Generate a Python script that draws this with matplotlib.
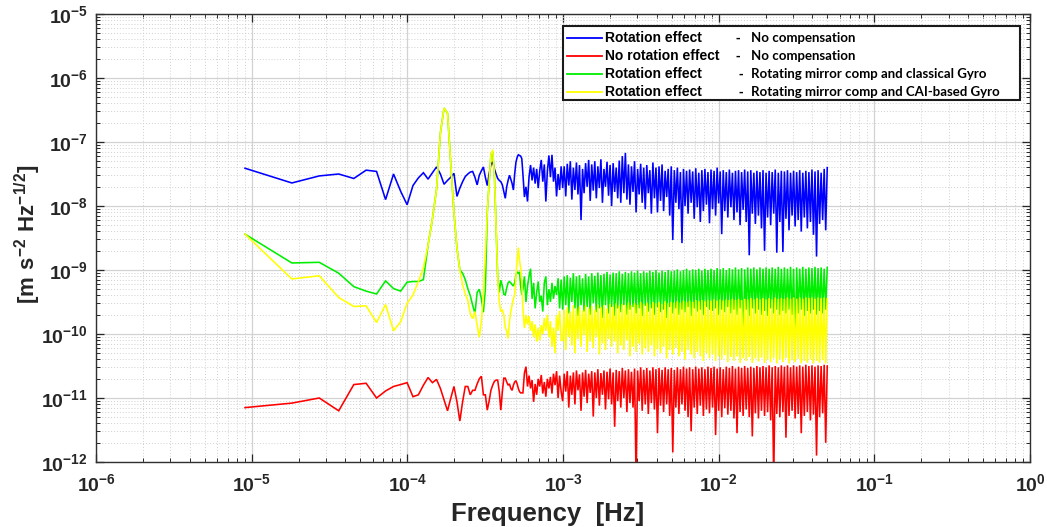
import numpy as np
import matplotlib
matplotlib.use("Agg")
import matplotlib.pyplot as plt
from matplotlib.ticker import FixedLocator, FuncFormatter, NullFormatter
from matplotlib.patches import Rectangle
from matplotlib.lines import Line2D

plt.rcParams['font.family'] = ['Liberation Sans', 'DejaVu Sans']
plt.rcParams['mathtext.fontset'] = 'custom'
plt.rcParams['mathtext.rm'] = 'Liberation Sans:bold'
plt.rcParams['mathtext.bf'] = 'Liberation Sans:bold'
plt.rcParams['mathtext.default'] = 'bf'

# ---------------- data (log10 of amplitude spectral density) ----------------
DF = 9.06e-6          # frequency resolution [Hz]
N_LOW = 60            # individually resolved bins k = 1..60
N_LAST = 5500         # last bin (~0.05 Hz)
N_DENSE = 200         # readings across the dense high-frequency band

x_exponents = [-6, -5, -4, -3, -2, -1, 0]
y_exponents = [-12, -11, -10, -9, -8, -7, -6, -5]

blue_low = [-7.41, -7.64, -7.53, -7.50, -7.57, -7.44, -7.46, -7.90, -7.50, -7.77,
            -7.98, -7.68, -7.56, -7.48, -7.58, -7.48, -7.39, -7.50, -7.66, -7.60,
            -7.55, -7.49, -7.85, -7.72, -7.62, -7.54, -7.50, -7.47, -7.46, -7.55,
            -7.67, -7.52, -7.45, -7.39, -7.55, -7.68, -7.50, -7.35, -7.31, -7.42,
            -7.50, -7.57, -7.60, -7.62, -7.67, -7.78, -7.88, -7.70, -7.60, -7.52,
            -7.58, -7.65, -7.75, -7.50, -7.32, -7.24, -7.20, -7.21, -7.22, -7.26]

red_low = [-11.15, -11.08, -11.00, -11.20, -10.79, -10.77, -11.00, -10.89, -10.82, -10.79,
           -10.76, -10.98, -10.95, -10.80, -10.68, -10.76, -10.71, -10.85, -11.03, -11.20,
           -11.00, -10.82, -11.06, -11.36, -11.06, -10.82, -10.82, -10.95, -10.88, -10.88,
           -10.78, -10.70, -10.66, -10.95, -10.95, -11.19, -11.05, -10.88, -10.80, -10.74,
           -10.72, -10.72, -10.90, -11.19, -10.90, -10.69, -10.69, -10.75, -10.80, -10.78,
           -10.85, -10.88, -10.80, -10.75, -10.73, -10.78, -10.85, -10.90, -10.92, -10.92]

green_low = [-8.44, -8.89, -8.88, -9.05, -9.26, -9.33, -9.375, -9.17, -9.29, -9.33,
             -9.19, -9.18, -9.18, -9.15, -8.61, -8.20, -7.74, -6.86, -6.47, -6.55,
             -7.36, -8.11, -8.66, -9.00, -9.05, -9.15, -9.29, -9.40, -9.55, -9.68,
             -9.35, -9.30, -9.45, -9.66, -9.30, -8.10, -7.65, -7.20, -7.15, -7.50,
             -8.30, -9.10, -9.35, -9.16, -9.25, -9.38, -9.39, -9.28, -9.20, -9.18,
             -9.20, -9.23, -9.25, -9.20, -9.08, -9.03, -9.05, -9.03, -9.25, -9.39]

yellow_low = [-8.44, -9.14, -9.09, -9.43, -9.57, -9.56, -9.82, -9.54, -9.95, -9.81,
              -9.52, -9.39, -9.18, -8.97, -8.61, -8.20, -7.74, -6.86, -6.47, -6.55,
              -7.36, -8.11, -8.66, -9.00, -9.23, -9.37, -9.47, -9.68, -9.76, -9.65,
              -9.86, -10.05, -9.80, -9.39, -8.75, -8.10, -7.65, -7.20, -7.12, -7.50,
              -8.30, -9.10, -9.50, -9.65, -9.62, -9.70, -9.90, -9.95, -10.07, -9.80,
              -9.65, -9.55, -9.45, -9.39, -9.10, -8.85, -8.65, -8.85, -8.97, -9.20]

blue_dense = [-7.50, -7.86, -7.70, -7.93, -7.55, -7.36, -7.60, -7.40, -7.65, -7.42,
              -7.72, -7.45, -7.28, -7.62, -7.35, -7.93, -7.45, -7.21, -7.55, -7.20,
              -7.62, -7.40, -7.85, -7.50, -7.75, -7.38, -7.72, -7.38, -7.85, -7.34,
              -7.68, -7.30, -7.90, -7.40, -7.75, -7.32, -7.82, -7.36, -8.22, -7.42,
              -7.80, -7.33, -7.70, -7.28, -7.92, -7.35, -7.76, -7.30, -7.88, -7.38,
              -7.72, -7.27, -7.95, -7.42, -7.70, -7.31, -7.84, -7.36, -8.00, -7.33,
              -7.78, -7.40, -7.88, -7.29, -7.95, -7.22, -7.80, -7.17, -7.90, -7.35,
              -7.98, -7.38, -7.78, -7.30, -8.10, -7.42, -7.82, -7.34, -7.95, -7.40,
              -8.05, -7.36, -7.80, -7.44, -8.12, -7.32, -7.88, -7.40, -8.10, -7.38,
              -7.92, -7.35, -8.08, -7.45, -7.86, -7.42, -8.15, -7.38, -8.53, -7.44,
              -7.95, -7.40, -8.05, -7.47, -8.58, -7.42, -8.00, -7.45, -8.12, -7.43,
              -7.95, -7.46, -8.20, -7.41, -8.02, -7.48, -8.25, -7.44, -8.08, -7.42,
              -7.98, -7.47, -8.27, -7.43, -8.05, -7.45, -8.15, -7.40, -7.96, -7.46,
              -8.44, -7.44, -8.08, -7.47, -8.18, -7.43, -8.02, -7.48, -8.22, -7.45,
              -8.10, -7.44, -8.30, -7.47, -8.06, -7.43, -8.25, -7.46, -8.77, -7.44,
              -8.12, -7.48, -8.28, -7.45, -8.15, -7.47, -8.35, -7.44, -8.70, -7.48,
              -8.18, -7.45, -8.30, -7.47, -8.12, -7.43, -8.73, -7.48, -8.25, -7.45,
              -8.72, -7.46, -8.20, -7.44, -8.38, -7.48, -8.15, -7.45, -8.32, -7.47,
              -8.22, -7.44, -8.40, -7.48, -8.18, -7.45, -8.35, -7.47, -8.25, -7.43,
              -8.45, -7.46, -8.79, -7.44, -8.28, -7.48, -8.22, -7.42, -8.38, -7.40]

red_dense = [-10.92, -10.61, -10.51, -10.82, -10.65, -10.85, -10.72, -11.06, -10.78, -10.95,
             -10.70, -10.82, -10.64, -10.93, -10.75, -10.98, -10.70, -10.85, -10.67, -10.93,
             -10.62, -10.80, -10.58, -11.00, -10.65, -10.90, -11.05, -10.62, -10.90, -10.58,
             -11.15, -10.65, -10.95, -10.60, -11.10, -10.57, -10.88, -10.63, -11.20, -10.60,
             -10.98, -10.56, -11.08, -10.62, -10.92, -10.58, -11.29, -10.60, -11.00, -10.55,
             -11.12, -10.61, -10.95, -10.57, -11.18, -10.59, -11.02, -10.54, -11.10, -10.60,
             -11.45, -10.56, -11.05, -10.58, -11.15, -10.53, -11.00, -10.57, -11.22, -10.55,
             -11.08, -10.59, -11.15, -10.54, -12.30, -10.57, -11.05, -10.52, -11.20, -10.56,
             -11.10, -10.53, -11.25, -10.57, -11.08, -10.52, -11.18, -10.55, -11.55, -10.53,
             -11.12, -10.56, -11.22, -10.52, -11.10, -10.55, -11.28, -10.53, -11.85, -10.56,
             -11.15, -10.52, -11.25, -10.55, -11.10, -10.51, -11.20, -10.54, -11.30, -10.52,
             -11.52, -10.55, -11.15, -10.51, -11.25, -10.54, -11.12, -10.52, -11.28, -10.55,
             -11.18, -10.51, -11.24, -10.53, -11.15, -10.51, -11.58, -10.54, -11.20, -10.52,
             -11.30, -10.55, -11.16, -10.51, -11.26, -10.53, -11.20, -10.50, -11.32, -10.54,
             -11.55, -10.51, -11.22, -10.53, -11.28, -10.50, -11.18, -10.53, -11.30, -10.51,
             -11.60, -10.53, -11.24, -10.50, -11.32, -10.52, -11.20, -10.50, -11.28, -10.52,
             -11.22, -10.49, -11.35, -10.52, -12.30, -10.50, -11.25, -10.52, -11.30, -10.49,
             -11.22, -10.51, -11.62, -10.49, -11.28, -10.52, -11.20, -10.49, -11.32, -10.51,
             -11.25, -10.49, -11.55, -10.51, -11.28, -10.48, -11.22, -10.50, -11.35, -10.49,
             -11.26, -10.51, -11.90, -10.49, -11.30, -10.50, -11.24, -10.48, -11.70, -10.50]

green_dense = [-9.30, -9.10, -9.50, -9.25, -9.10, -8.98, -9.45, -9.20, -9.60, -9.35,
               -9.18, -9.50, -9.40, -9.65, -9.20, -9.10, -9.55, -9.30, -9.50, -9.20,
               -9.45, -9.25, -9.39, -9.13, -9.60, -9.15, -9.62, -9.10, -9.55, -9.08,
               -9.68, -9.12, -9.50, -9.05, -9.60, -9.10, -9.72, -9.08, -9.55, -9.13,
               -9.65, -9.06, -9.58, -9.10, -9.70, -9.05, -9.52, -9.09, -9.66, -9.04,
               -9.60, -9.08, -9.75, -9.06, -9.55, -9.03, -9.68, -9.07, -9.58, -9.04,
               -9.72, -9.05, -9.60, -9.02, -9.66, -9.06, -9.55, -9.03, -9.70, -9.05,
               -9.62, -9.02, -9.58, -9.04, -9.68, -9.01, -9.60, -9.05, -9.72, -9.02,
               -9.56, -9.04, -9.65, -9.01, -9.60, -9.03, -9.70, -9.00, -9.58, -9.04,
               -9.66, -9.01, -9.62, -9.03, -9.75, -9.00, -9.58, -9.02, -9.68, -9.01,
               -9.60, -8.99, -9.70, -9.02, -9.62, -9.00, -9.66, -8.98, -9.58, -9.01,
               -9.72, -8.99, -9.60, -9.00, -9.65, -8.98, -9.62, -9.01, -9.70, -8.98,
               -9.58, -9.00, -9.62, -8.98, -9.64, -9.00, -9.60, -8.97, -9.70, -8.99,
               -9.62, -8.97, -9.66, -9.00, -9.58, -8.97, -9.68, -8.99, -9.62, -8.96,
               -9.70, -8.99, -9.60, -8.97, -10.25, -8.99, -9.62, -8.96, -9.72, -8.98,
               -9.60, -8.96, -9.68, -8.99, -9.62, -8.96, -9.70, -8.98, -9.64, -8.96,
               -9.72, -8.98, -9.60, -8.96, -9.68, -8.98, -9.62, -8.95, -9.70, -8.98,
               -9.64, -8.96, -9.68, -8.98, -9.62, -8.95, -9.70, -8.98, -10.15, -8.96,
               -9.68, -8.98, -9.62, -8.95, -9.72, -8.98, -9.64, -8.96, -9.68, -8.97,
               -9.62, -8.95, -9.70, -8.97, -9.64, -8.96, -9.68, -8.98, -9.62, -8.96]

yellow_dense = [-9.60, -9.91, -9.70, -9.85, -9.72, -9.95, -9.80, -10.05, -9.85, -10.12,
                -9.90, -10.10, -9.86, -10.00, -9.75, -9.95, -9.70, -10.05, -9.80, -10.20,
                -9.90, -10.30, -9.70, -9.95, -9.64, -10.10, -10.10, -9.62, -10.25, -9.58,
                -10.05, -9.65, -10.18, -9.55, -10.30, -9.60, -10.08, -9.57, -10.20, -9.63,
                -10.02, -9.55, -10.28, -9.60, -10.12, -9.56, -10.22, -9.62, -10.05, -9.54,
                -10.32, -9.58, -10.15, -9.55, -10.25, -9.60, -10.08, -9.53, -10.20, -9.57,
                -10.12, -9.52, -10.30, -9.56, -10.18, -9.53, -10.25, -9.55, -10.10, -9.51,
                -10.35, -9.55, -10.20, -9.52, -10.28, -9.54, -10.15, -9.50, -10.32, -9.53,
                -10.22, -9.51, -10.28, -9.54, -10.18, -9.50, -10.35, -9.52, -10.24, -9.50,
                -10.30, -9.53, -10.20, -9.49, -10.38, -9.52, -10.25, -9.50, -10.32, -9.51,
                -10.22, -9.49, -10.35, -9.51, -10.28, -9.48, -10.40, -9.50, -10.25, -9.48,
                -10.32, -9.50, -10.38, -9.47, -10.28, -9.49, -10.35, -9.47, -10.42, -9.49,
                -10.30, -9.47, -10.38, -9.48, -10.32, -9.46, -10.42, -9.48, -10.35, -9.46,
                -10.40, -9.48, -10.33, -9.46, -10.44, -9.47, -10.36, -9.45, -10.42, -9.47,
                -10.35, -9.45, -10.45, -9.47, -10.38, -9.45, -10.42, -9.46, -10.36, -9.44,
                -10.45, -9.46, -10.38, -9.44, -10.43, -9.46, -10.37, -9.44, -10.45, -9.46,
                -10.40, -9.44, -10.44, -9.46, -10.38, -9.43, -10.46, -9.45, -10.40, -9.44,
                -10.44, -9.45, -10.38, -9.43, -10.46, -9.45, -10.41, -9.43, -10.44, -9.45,
                -10.39, -9.43, -10.46, -9.45, -10.42, -9.43, -10.45, -9.44, -10.40, -9.43,
                -10.46, -9.45, -10.42, -9.43, -10.45, -9.44, -10.41, -9.43, -10.46, -9.45]

legend_left = ["Rotation effect", "No rotation effect", "Rotation effect", "Rotation effect"]
legend_right = ["No compensation", "No compensation",
                "Rotating mirror comp and classical Gyro",
                "Rotating mirror comp and CAI-based Gyro"]
colors = ["#0000ff", "#ff0000", "#00ee00", "#ffff00"]

# ---------------- frequency axis ----------------
freq_low = DF * np.arange(1, N_LOW + 1)
freq_dense = np.geomspace((N_LOW + 1) * DF, N_LAST * DF, N_DENSE)
freq = np.concatenate([freq_low, freq_dense])

series = [(blue_low, blue_dense), (red_low, red_dense),
          (green_low, green_dense), (yellow_low, yellow_dense)]

W, H = 1047, 527
fig = plt.figure(figsize=(W / 100, H / 100), dpi=100)
ax = fig.add_axes([96 / W, 1 - 462 / H, 934 / W, 448 / H])
ax.set_xscale('log')
ax.set_yscale('log')

for (lo, de), c in zip(series, colors):
    y = 10 ** np.concatenate([np.array(lo), np.array(de)])
    ax.plot(freq, y, color=c, lw=1.15, solid_joinstyle='miter')

ax.set_xlim(1e-6, 1)
ax.set_ylim(1e-12, 1e-5)

xmaj = [10.0 ** e for e in x_exponents]
ymaj = [10.0 ** e for e in y_exponents]
xmin = [m * 10.0 ** e for e in x_exponents[:-1] for m in range(2, 10)]
ymin = [m * 10.0 ** e for e in y_exponents[:-1] for m in range(2, 10)]
ax.xaxis.set_major_locator(FixedLocator(xmaj))
ax.yaxis.set_major_locator(FixedLocator(ymaj))
ax.xaxis.set_minor_locator(FixedLocator(xmin))
ax.yaxis.set_minor_locator(FixedLocator(ymin))
fmt = FuncFormatter(lambda v, p: r'$\mathbf{10^{%d}}$' % int(round(np.log10(v))))
ax.xaxis.set_major_formatter(fmt)
ax.yaxis.set_major_formatter(fmt)
ax.xaxis.set_minor_formatter(NullFormatter())
ax.yaxis.set_minor_formatter(NullFormatter())

ax.grid(True, which='major', color='#d2d2d2', lw=0.9, ls='-')
ax.grid(True, which='minor', color='#d0d0d0', lw=0.7, ls=(0, (1, 2)))
ax.set_axisbelow(True)

ax.tick_params(which='both', direction='in', top=True, right=True, colors='#262626')
ax.tick_params(which='major', length=6, width=0.9, labelsize=14, pad=6)
ax.tick_params(axis='x', which='major', pad=8)
ax.tick_params(which='minor', length=3, width=0.7)
for s in ax.spines.values():
    s.set_color('#303030')
    s.set_linewidth(1.0)

fig.text(548 / W, 1 - 514 / H, "Frequency  [Hz]", fontsize=18.5, fontweight='bold',
         ha='center', va='center', color='#262626')
fig.text(28 / W, 1 - 234 / H, r'$\mathbf{[m\ s^{-2}\ Hz^{-1/2}]}$', fontsize=16,
         rotation=90, ha='center', va='center', color='#262626')

# ---------------- legend box ----------------
def fpos(px, py):
    return px / W, 1 - py / H

x0, y0 = fpos(563, 100)
x1, y1 = fpos(1020, 26)
fig.patches.append(Rectangle((x0, y0), x1 - x0, y1 - y0, transform=fig.transFigure,
                             facecolor='white', edgecolor='#1a1a1a', lw=1.5, zorder=5))
rows_y = [38, 56, 74, 92]
dash_x = [738, 738, 741, 741]
for ry, c, tl, tr, dx in zip(rows_y, colors, legend_left, legend_right, dash_x):
    a, b = fpos(567, ry)
    c2, _ = fpos(602, ry)
    fig.add_artist(Line2D([a, c2], [b, b], transform=fig.transFigure, color=c, lw=1.3, zorder=6))
    tx, ty = fpos(605, ry)
    fig.text(tx, ty, tl, fontsize=10, fontweight='bold', ha='left', va='center', zorder=7)
    dxx, _ = fpos(dx, ry)
    fig.text(dxx, ty, "-", fontsize=10, fontweight='bold', ha='center', va='center', zorder=7)
    t2x, _ = fpos(751, ry)
    fig.text(t2x, ty, tr, fontsize=9.5, fontweight='bold', family=['Lato', 'DejaVu Sans'],
             ha='left', va='center', zorder=7)

fig.savefig("out.png", dpi=100, facecolor='white')
